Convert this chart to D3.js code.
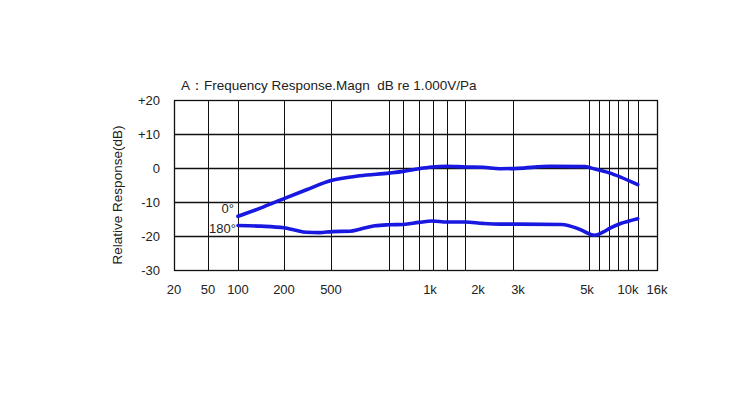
<!DOCTYPE html>
<html><head><meta charset="utf-8">
<script src="https://cdn.jsdelivr.net/npm/d3@7"></script>
<style>body{margin:0;background:#fff}svg{display:block}text{font-family:"Liberation Sans",Arial,sans-serif;fill:#222;white-space:pre}</style>
</head><body>
<script>
// ---- data ----
const title = "A：Frequency Response.Magn  dB re 1.000V/Pa";
const yLabel = "Relative Response(dB)";
const xTickFreqs = [20, 50, 100, 200, 500, 1000, 2000, 3000, 5000, 10000, 16000];
const xTickLabels = ["20", "50", "100", "200", "500", "1k", "2k", "3k", "5k", "10k", "16k"];
const xGridFreqs = [50, 100, 200, 500, 750, 830, 925, 1045, 1280, 1660, 2850, 5170, 6130, 7250, 8450, 10000, 11750];
const yTicks = [20, 10, 0, -10, -20, -30];
const yTickLabels = ["+20", "+10", "0", "-10", "-20", "-30"];
const freq0 = [100, 140, 200, 310, 500, 612, 750, 830, 925, 1030, 1275, 1660, 2100, 2500, 3000, 3800, 4930, 5700, 6230, 7380, 8735, 11700];
const resp0 = [-14.2, -11.8, -9.0, -6.4, -3.7, -2.3, -1.5, -1.0, -0.2, 0.3, 0.5, 0.3, 0.2, -0.2, -0.1, 0.5, 0.4, -0.3, -0.7, -1.5, -2.6, -4.9];
const freq180 = [100, 140, 200, 250, 310, 400, 505, 571, 612, 680, 750, 830, 925, 1030, 1275, 1660, 2100, 2500, 3000, 4150, 4630, 4930, 5000, 5720, 6590, 7380, 8735, 11700];
const resp180 = [-16.9, -17.1, -17.6, -18.3, -18.9, -19.0, -18.7, -18.6, -18.0, -17.0, -16.7, -16.6, -16.0, -15.6, -15.9, -15.9, -16.3, -16.5, -16.5, -16.6, -17.7, -18.8, -19.1, -19.8, -18.8, -17.7, -16.4, -14.9];
const curveLabels = ["0°", "180°"];

// ---- layout ----
const W = 750, H = 400;
const plotTop = 100, plotBottom = 270;
const svg = d3.select("body").append("svg").attr("width", W).attr("height", H);

// piecewise log scale (the original axis is not uniformly logarithmic)
const x = d3.scaleLog().domain(xTickFreqs).range([174, 208, 238, 284, 331, 430, 478, 518, 587, 628, 657]);
const y = d3.scaleLinear().domain([-30, 20]).range([plotBottom, plotTop]);
const left = x(20), right = x(16000);

// grid
const g = svg.append("g");
g.selectAll("line.v").data(xGridFreqs).join("line")
  .attr("x1", d => Math.round(x(d)) + 0.5).attr("x2", d => Math.round(x(d)) + 0.5)
  .attr("y1", plotTop).attr("y2", plotBottom)
  .attr("stroke", "#111").attr("stroke-width", 1);
g.selectAll("line.h").data(yTicks.slice(1, -1)).join("line")
  .attr("x1", left).attr("x2", right)
  .attr("y1", d => Math.round(y(d)) + 0.5).attr("y2", d => Math.round(y(d)) + 0.5)
  .attr("stroke", "#111").attr("stroke-width", 1.3);
g.append("rect").attr("x", left + 0.5).attr("y", plotTop + 0.5)
  .attr("width", right - left).attr("height", plotBottom - plotTop)
  .attr("fill", "none").attr("stroke", "#111").attr("stroke-width", 1.3);

// curves
const line = d3.line().x(d => x(d[0])).y(d => y(d[1])).curve(d3.curveMonotoneX);
[[freq0, resp0], [freq180, resp180]].forEach(([f, r]) => {
  svg.append("path").datum(f.map((v, i) => [v, r[i]]))
    .attr("d", line).attr("fill", "none")
    .attr("stroke", "#1818e0").attr("stroke-width", 3.6)
    .attr("stroke-linejoin", "round").attr("stroke-linecap", "round");
});

// curve labels
svg.append("text").attr("x", x(100) - 4).attr("y", y(resp0[0]) - 3)
  .attr("text-anchor", "end").attr("font-size", 13).text(curveLabels[0]);
svg.append("text").attr("x", x(100) - 2).attr("y", y(resp180[0]) + 8)
  .attr("text-anchor", "end").attr("font-size", 13).text(curveLabels[1]);

// y tick labels
svg.selectAll("text.yt").data(yTicks).join("text")
  .attr("x", 160).attr("y", d => y(d)).attr("dy", "0.35em")
  .attr("text-anchor", "end").attr("font-size", 13)
  .text((d, i) => yTickLabels[i]);

// x tick labels
svg.selectAll("text.xt").data(xTickFreqs).join("text")
  .attr("x", d => x(d)).attr("y", 289).attr("dy", "0.35em")
  .attr("text-anchor", "middle").attr("font-size", 13)
  .text((d, i) => xTickLabels[i]);

// axis title
svg.append("text").attr("transform", `translate(122,${(plotTop + plotBottom) / 2 + 10}) rotate(-90)`)
  .attr("text-anchor", "middle").attr("font-size", 13.5).text(yLabel);

// chart title
svg.append("text").attr("x", 181).attr("y", 90).attr("font-size", 13.5).text(title);
</script>
</body></html>
